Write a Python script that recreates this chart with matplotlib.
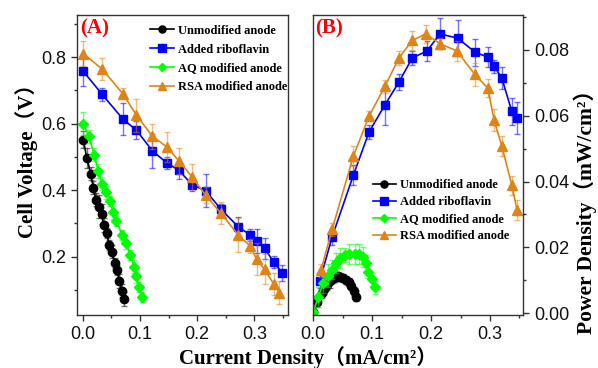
import matplotlib
matplotlib.use("Agg")
import matplotlib.pyplot as plt
from matplotlib.ticker import MultipleLocator

# ---- data ----
labels = ["Unmodified anode", "Added riboflavin", "AQ modified anode", "RSA modified anode"]
colors = ["#000000", "#0000FF", "#00FF00", "#E08418"]
markers = ["o", "s", "D", "^"]
msizes = [6, 6, 5, 6.5]

# (A) polarization: current density (mA/cm2) vs cell voltage (V)
unmod_i = [0.001, 0.007, 0.014, 0.0185, 0.023, 0.028, 0.033, 0.037, 0.042, 0.046, 0.051, 0.056, 0.060, 0.064, 0.069, 0.072]
unmod_v = [0.552, 0.498, 0.450, 0.408, 0.372, 0.350, 0.328, 0.295, 0.272, 0.235, 0.215, 0.182, 0.160, 0.127, 0.098, 0.073]
unmod_ve = [0.025, 0.03, 0.02, 0.02, 0.02, 0.035, 0.03, 0.02, 0.015, 0.015, 0.02, 0.015, 0.015, 0.02, 0.02, 0.02]

ribo_i = [0.001, 0.034, 0.070, 0.094, 0.122, 0.147, 0.168, 0.191, 0.215, 0.242, 0.272, 0.293, 0.304, 0.318, 0.334, 0.349]
ribo_v = [0.757, 0.688, 0.614, 0.580, 0.518, 0.482, 0.460, 0.417, 0.398, 0.342, 0.290, 0.265, 0.248, 0.225, 0.184, 0.152]
ribo_ve = [0.044, 0.02, 0.047, 0.027, 0.05, 0.018, 0.025, 0.02, 0.05, 0.016, 0.03, 0.018, 0.036, 0.032, 0.018, 0.024]

aq_i = [0.001, 0.011, 0.020, 0.027, 0.034, 0.040, 0.048, 0.053, 0.059, 0.069, 0.076, 0.083, 0.090, 0.093, 0.099, 0.104]
aq_v = [0.600, 0.562, 0.507, 0.458, 0.420, 0.394, 0.368, 0.333, 0.308, 0.265, 0.242, 0.205, 0.170, 0.142, 0.108, 0.080]
aq_ve = [0.035, 0.02, 0.02, 0.02, 0.02, 0.02, 0.015, 0.02, 0.015, 0.015, 0.02, 0.015, 0.02, 0.02, 0.015, 0.015]

rsa_i = [0.001, 0.034, 0.070, 0.094, 0.122, 0.147, 0.168, 0.191, 0.215, 0.242, 0.272, 0.293, 0.304, 0.318, 0.334, 0.344]
rsa_v = [0.810, 0.764, 0.690, 0.625, 0.562, 0.530, 0.488, 0.440, 0.385, 0.330, 0.265, 0.232, 0.192, 0.162, 0.118, 0.092]
rsa_ve = [0.037, 0.034, 0.017, 0.05, 0.037, 0.046, 0.04, 0.039, 0.025, 0.033, 0.05, 0.02, 0.048, 0.045, 0.032, 0.034]

# (B) power density (mW/cm2)
unmod_pi = [0.000, 0.007, 0.014, 0.0185, 0.023, 0.028, 0.033, 0.037, 0.042, 0.046, 0.051, 0.056, 0.060, 0.064, 0.069, 0.072]
unmod_p = [0.0003, 0.0035, 0.0063, 0.0075, 0.0086, 0.0098, 0.0106, 0.0109, 0.0112, 0.0109, 0.0108, 0.0102, 0.0096, 0.0082, 0.0067, 0.0050]
unmod_pe = [0.001, 0.0015, 0.0015, 0.0015, 0.0015, 0.002, 0.0015, 0.0015, 0.0015, 0.0012, 0.0012, 0.0012, 0.0012, 0.0012, 0.0012, 0.0012]

ribo_pi = [0.011, 0.032, 0.068, 0.0946, 0.1217, 0.1455, 0.168, 0.193, 0.215, 0.245, 0.275, 0.297, 0.307, 0.320, 0.337, 0.346]
ribo_p = [0.0098, 0.0232, 0.0419, 0.0550, 0.0633, 0.0702, 0.0775, 0.0796, 0.0848, 0.0835, 0.0792, 0.0777, 0.0750, 0.0714, 0.0613, 0.0592]
ribo_pe = [0.002, 0.0025, 0.003, 0.002, 0.006, 0.0025, 0.002, 0.003, 0.0047, 0.0055, 0.004, 0.003, 0.002, 0.0033, 0.004, 0.0049]

aq_pi = [0.000, 0.0085, 0.017, 0.025, 0.032, 0.038, 0.045, 0.053, 0.060, 0.071, 0.077, 0.084, 0.089, 0.093, 0.099, 0.105]
aq_p = [0.0005, 0.0050, 0.0093, 0.0114, 0.0133, 0.0152, 0.0167, 0.0177, 0.0180, 0.0181, 0.0180, 0.0170, 0.0152, 0.0126, 0.0103, 0.0079]
aq_pe = [0.002, 0.003, 0.003, 0.0035, 0.003, 0.003, 0.003, 0.002, 0.003, 0.003, 0.003, 0.003, 0.0025, 0.002, 0.002, 0.002]

rsa_pi = [0.013, 0.032, 0.068, 0.0946, 0.1217, 0.1455, 0.168, 0.191, 0.215, 0.244, 0.274, 0.296, 0.307, 0.320, 0.337, 0.346]
rsa_p = [0.0131, 0.0255, 0.0477, 0.0598, 0.0689, 0.0775, 0.0828, 0.0848, 0.0818, 0.0796, 0.0725, 0.0684, 0.0586, 0.0508, 0.0389, 0.0313]
rsa_pe = [0.002, 0.002, 0.003, 0.0015, 0.002, 0.002, 0.0028, 0.0028, 0.0017, 0.003, 0.0034, 0.0027, 0.0034, 0.003, 0.0029, 0.003]

serif = ["Liberation Serif", "Noto Sans CJK SC"]
plt.rcParams["font.family"] = ["Liberation Sans"]

fig = plt.figure(figsize=(5.98, 3.68), dpi=100)
axA = fig.add_axes([0.1293, 0.144, 0.3528, 0.815])
axB = fig.add_axes([0.5229, 0.144, 0.3512, 0.815])


def draw(ax, xs, ys, es):
    for x, y, e, c, m, ms, lab in zip(xs, ys, es, colors, markers, msizes, labels):
        ax.errorbar(x, y, yerr=e, fmt="none", ecolor=c, alpha=0.55,
                    elinewidth=1.0, capsize=2.5, capthick=1.0)
        ax.plot(x, y, color=c, marker=m, ms=ms, lw=1.2, label=lab)


draw(axA, [unmod_i, ribo_i, aq_i, rsa_i], [unmod_v, ribo_v, aq_v, rsa_v],
     [unmod_ve, ribo_ve, aq_ve, rsa_ve])
draw(axB, [unmod_pi, ribo_pi, aq_pi, rsa_pi], [unmod_p, ribo_p, aq_p, rsa_p],
     [unmod_pe, ribo_pe, aq_pe, rsa_pe])

axA.set_xlim(-0.0094, 0.3594)
axA.set_ylim(0.025, 0.926)
axA.xaxis.set_minor_locator(MultipleLocator(0.05))
axA.yaxis.set_major_locator(MultipleLocator(0.2))
axA.yaxis.set_minor_locator(MultipleLocator(0.1))
axA.set_xticks([0.0, 0.1, 0.2, 0.3])
axA.set_xticklabels(["0.0", "0.1", "0.2", "0.3"])

axB.set_xlim(-0.001, 0.3555)
axB.set_ylim(-0.0005, 0.0905)
axB.xaxis.set_minor_locator(MultipleLocator(0.05))
axB.yaxis.set_minor_locator(MultipleLocator(0.01))
axB.yaxis.tick_right()
axB.set_xticks([0.0, 0.1, 0.2, 0.3])
axB.set_xticklabels(["0.0", "0.1", "0.2", "0.3"])
axB.set_yticks([0.0, 0.02, 0.04, 0.06, 0.08])
axB.set_yticklabels(["0.00", "0.02", "0.04", "0.06", "0.08"])

for ax in (axA, axB):
    ax.tick_params(which="both", direction="out", labelsize=13, width=1.0,
                   top=False, colors="#333333", labelcolor="#111111")
    ax.tick_params(which="major", length=4, pad=4)
    ax.tick_params(which="minor", length=2.5)
    for s in ax.spines.values():
        s.set_linewidth(1.0)
        s.set_color("#333333")

axA.tick_params(which="both", right=False)
axB.tick_params(which="both", left=False)

axA.text(0.012, 0.99, "(A)", transform=axA.transAxes, color="red", fontsize=15,
         fontweight="bold", family=serif, va="top", ha="left")
axB.text(0.012, 0.99, "(B)", transform=axB.transAxes, color="red", fontsize=15,
         fontweight="bold", family=serif, va="top", ha="left")

legfont = {"family": "Liberation Serif", "weight": "bold", "size": 9}
axA.legend(loc="upper left", bbox_to_anchor=(0.345, 0.968), frameon=False, prop=legfont,
           borderpad=0, borderaxespad=0, handlelength=1.9, handletextpad=0.3,
           labelspacing=0.55, markerscale=0.85)
axB.legend(loc="upper left", bbox_to_anchor=(0.285, 0.452), frameon=False, prop=legfont,
           borderpad=0, borderaxespad=0, handlelength=1.9, handletextpad=0.3,
           labelspacing=0.4, markerscale=0.85)

fig.text(0.045, 0.576, "Cell Voltage（V）", rotation=90, ha="center", va="center",
         fontsize=15, fontweight="bold", family=serif)
fig.text(0.979, 0.44, "Power Density（mW/cm²）", rotation=90, ha="center", va="center",
         fontsize=15.5, fontweight="bold", family=serif)
fig.text(0.515, 0.028, "Current Density（mA/cm²）", ha="center", va="center",
         fontsize=15, fontweight="bold", family=serif)

fig.savefig("out.png", dpi=100)
